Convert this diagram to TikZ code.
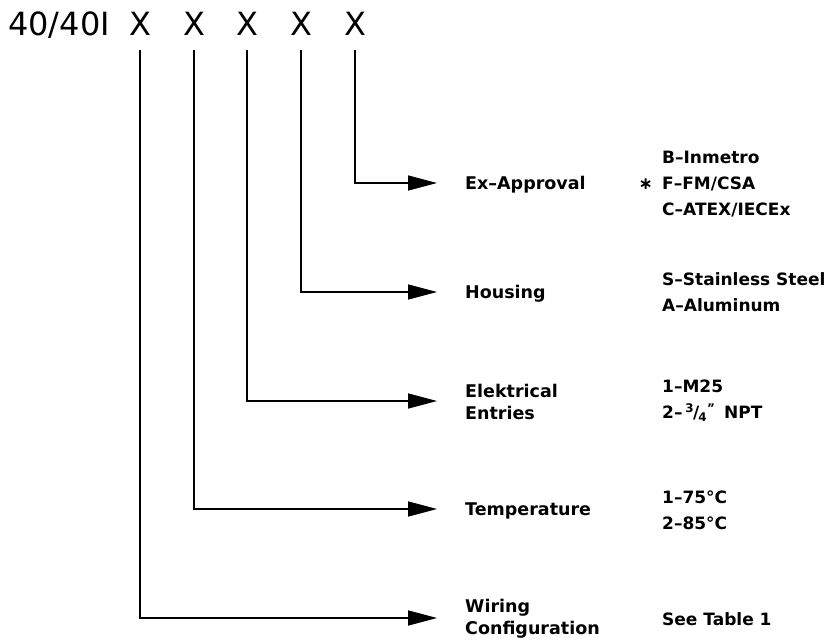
\documentclass[tikz,border=0pt]{standalone}
\usepackage{fontspec}
\setmainfont{DejaVu Sans}
\usetikzlibrary{arrows.meta}
\tikzset{
  code/.style={font=\fontsize{32}{32}\selectfont, inner sep=0pt, anchor=base},
  field/.style={font=\bfseries\fontsize{17.5}{22}\selectfont, inner sep=0pt, anchor=west, align=left},
  opt/.style={font=\bfseries\fontsize{17}{26}\selectfont, inner sep=0pt, anchor=west, align=left},
  lead/.style={line width=1.5pt, -{Triangle[length=29pt,width=15pt]}},
}
\begin{document}
\begin{tikzpicture}[x=1pt, y=-1pt]
\useasboundingbox (0,0) rectangle (833,640);
\node[code, anchor=base west](P) at (8,35){40/40I};
\node[code](X1) at (140,35){X};
\node[code](X2) at (194,35){X};
\node[code](X3) at (247,35){X};
\node[code](X4) at (301,35){X};
\node[code](X5) at (355,35){X};

\node[field](F5) at (465,185){Ex--Approval};
\node[field](F4) at (465,294){Housing};
\node[field](F3) at (465,402){Elektrical\\Entries};
\node[field](F2) at (465,511){Temperature};
\node[field](F1) at (465,619){Wiring\\Configuration};

\node[opt](O5) at (662,184){B--Inmetro\\F--FM/CSA\\C--ATEX/IECEx};
\node[opt, anchor=east](S) at (O5.west){\textasteriskcentered\hspace{9pt}};
\node[opt](O4) at (662,292){S--Stainless Steel\\A--Aluminum};
\node[opt](O3) at (662,401){1--M25\\2--\,\textsuperscript{3}\kern-1pt/\kern-1pt\textsubscript{4}\textsuperscript{"}\, NPT};
\node[opt](O2) at (662,510){1--75°C\\2--85°C};
\node[opt](O1) at (662,619){See Table 1};

\coordinate (T) at (437,0);
\draw[lead](X5.south)++(0,15) |- (T |- 0,183);
\draw[lead](X4.south)++(0,15) |- (T |- 0,292);
\draw[lead](X3.south)++(0,15) |- (T |- 0,401);
\draw[lead](X2.south)++(0,15) |- (T |- 0,509);
\draw[lead](X1.south)++(0,15) |- (T |- 0,618);
\end{tikzpicture}
\end{document}
